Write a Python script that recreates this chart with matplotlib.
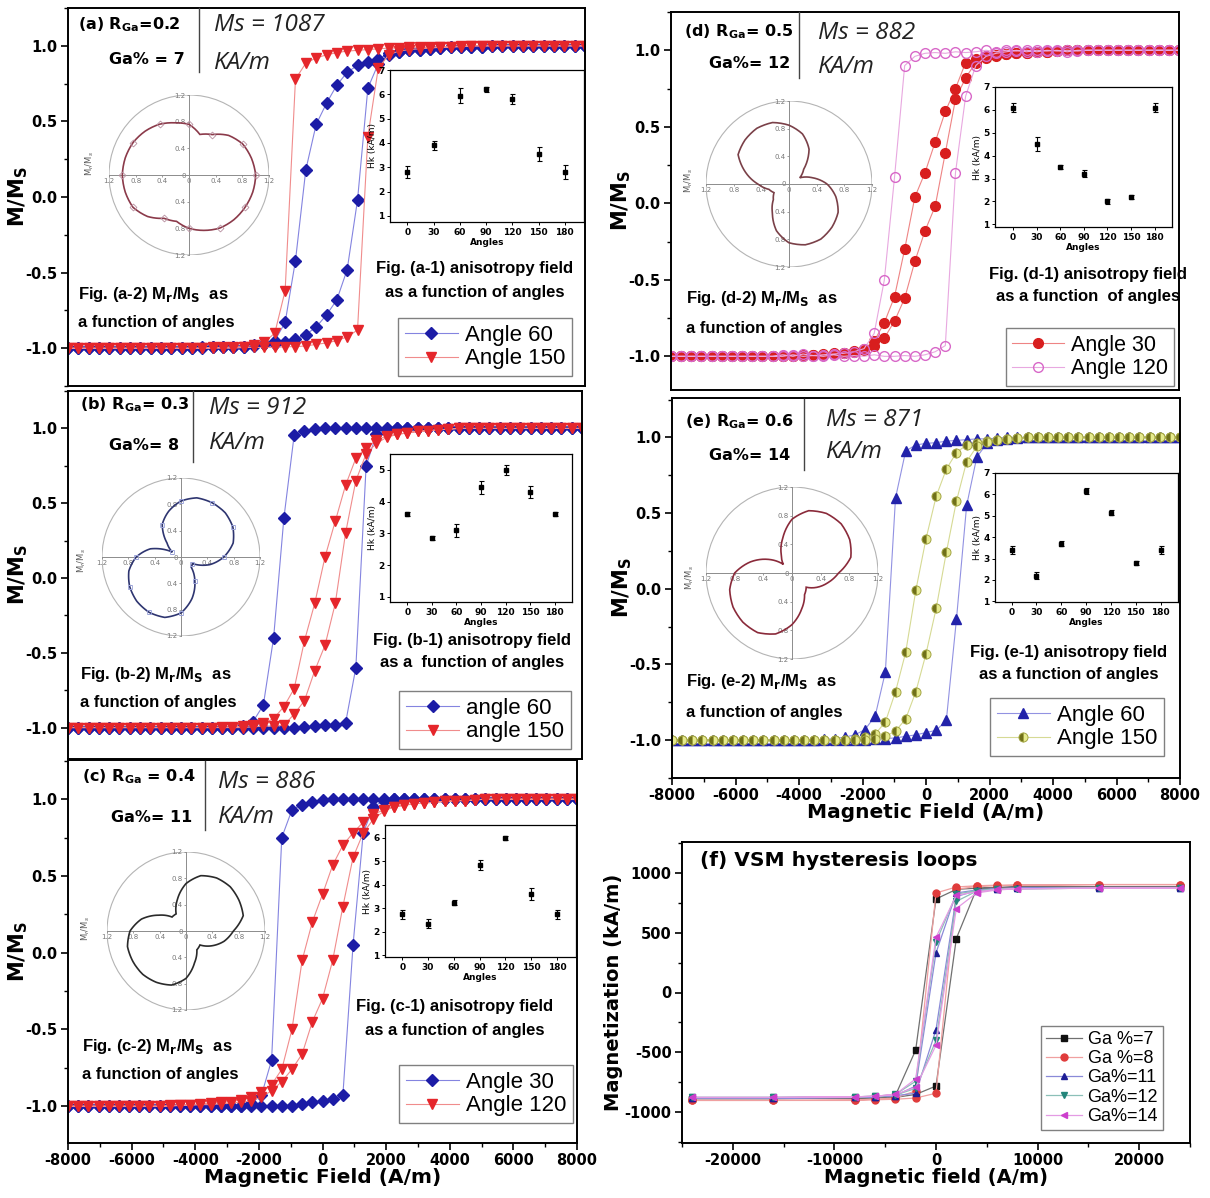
import numpy as np
import matplotlib
matplotlib.use('Agg')
import matplotlib.pyplot as plt
from matplotlib.lines import Line2D
from matplotlib.patches import Circle, PathPatch
from matplotlib.path import Path
from matplotlib.ticker import MultipleLocator

W, H = 1210, 1198
plt.rcParams['axes.unicode_minus'] = False
plt.rcParams['font.family'] = ['DejaVu Sans']

# field grid of the angular loops (A/m), -8000 .. 8000
FIELD = [-8000, -7680, -7360, -7040, -6720, -6400, -6080, -5760, -5440, -5120,
         -4800, -4480, -4160, -3840, -3520, -3200, -2880, -2560, -2240, -1920,
         -1600, -1280, -960, -640, -320, 0, 320, 640, 960, 1280,
         1600, 1920, 2240, 2560, 2880, 3200, 3520, 3840, 4160, 4480,
         4800, 5120, 5440, 5760, 6080, 6400, 6720, 7040, 7360, 7680, 8000]

# M/Ms read between -4800 and 4800 (outside that the loops sit at -1 / +1)
A60_DOWN = [-1.0, -1.0, -1.0, -0.995, -0.995, -0.99, -0.99, -0.99, -0.985, -0.975, -0.95, -0.83, -0.42, 0.18, 0.48, 0.62,
            0.74, 0.825, 0.87, 0.895, 0.91, 0.95, 0.96, 0.97, 0.975, 0.98, 0.985, 0.99, 0.99, 0.995, 0.995]
A60_UP = [-1.0, -1.0, -1.0, -1.0, -0.995, -0.995, -0.99, -0.99, -0.98, -0.975, -0.97, -0.96, -0.94, -0.91, -0.86, -0.78,
          -0.68, -0.48, -0.02, 0.72, 0.88, 0.94, 0.96, 0.97, 0.975, 0.98, 0.985, 0.99, 0.99, 0.995, 0.995]
A150_DOWN = [-1.0, -1.0, -1.0, -1.0, -0.995, -0.995, -0.99, -0.99, -0.98, -0.96, -0.9, -0.62, 0.78, 0.885, 0.92, 0.94,
             0.955, 0.965, 0.97, 0.975, 0.98, 0.985, 0.985, 0.99, 0.99, 0.99, 0.995, 0.995, 1.0, 1.0, 1.0]
A150_UP = [-1.0, -1.0, -1.0, -1.0, -1.0, -1.0, -1.0, -0.995, -0.995, -0.995, -0.995, -0.99, -0.99, -0.985, -0.975, -0.965,
           -0.95, -0.925, -0.88, 0.40, 0.85, 0.94, 0.965, 0.975, 0.98, 0.985, 0.99, 0.99, 0.995, 1.0, 1.0]

B60_DOWN = [-1.0] * 7 + [-0.99, -0.96, -0.85, -0.4, 0.4, 0.955, 0.985, 0.995] + [1.0] * 16
B60_UP = [-1.0] * 13 + [-0.995, -0.99, -0.985, -0.98, -0.97, -0.6, 0.75, 0.96, 0.99] + [1.0] * 9
B150_DOWN = [-1.0, -1.0, -1.0, -1.0, -1.0, -0.995, -0.995, -0.99, -0.985, -0.97, -0.94, -0.86, -0.74, -0.42, -0.17, 0.14,
             0.38, 0.62, 0.80, 0.87, 0.92, 0.95, 0.96, 0.97, 0.98, 0.985, 0.99, 0.995, 1.0, 1.0, 1.0]
B150_UP = [-1.0, -1.0, -1.0, -1.0, -1.0, -1.0, -1.0, -1.0, -0.995, -0.99, -0.99, -0.985, -0.91, -0.82, -0.62, -0.45,
           -0.17, 0.3, 0.65, 0.83, 0.9, 0.94, 0.96, 0.97, 0.98, 0.985, 0.99, 0.995, 1.0, 1.0, 1.0]

C30_DOWN = [-1.0] * 8 + [-0.98, -0.93, -0.7, 0.75, 0.93, 0.965, 0.98, 0.995] + [1.0] * 15
C30_UP = [-1.0] * 13 + [-0.985, -0.975, -0.965, -0.955, -0.93, 0.05, 0.78, 0.95, 0.99] + [1.0] * 9
C120_DOWN = [-0.995, -0.99, -0.99, -0.985, -0.98, -0.975, -0.97, -0.96, -0.94, -0.91, -0.86, -0.76, -0.5, -0.05, 0.2, 0.38,
             0.57, 0.7, 0.78, 0.85, 0.9, 0.93, 0.95, 0.96, 0.97, 0.975, 0.98, 0.985, 0.99, 0.99, 0.995]
C120_UP = [-1.0, -0.995, -0.995, -0.99, -0.99, -0.985, -0.98, -0.975, -0.965, -0.94, -0.9, -0.84, -0.76, -0.66, -0.45, -0.3,
           -0.05, 0.3, 0.62, 0.78, 0.87, 0.92, 0.95, 0.96, 0.97, 0.975, 0.98, 0.985, 0.99, 0.99, 0.995]

D30_DOWN = [-1.0, -0.995, -0.995, -0.99, -0.99, -0.985, -0.98, -0.975, -0.965, -0.95, -0.9, -0.78, -0.61, -0.3, 0.04, 0.2,
            0.4, 0.6, 0.75, 0.92, 0.94, 0.96, 0.97, 0.975, 0.98, 0.985, 0.99, 0.99, 0.995, 1.0, 1.0]
D30_UP = [-1.0, -1.0, -0.995, -0.995, -0.99, -0.99, -0.985, -0.98, -0.97, -0.96, -0.93, -0.88, -0.77, -0.62, -0.38, -0.18,
          -0.02, 0.33, 0.68, 0.82, 0.92, 0.95, 0.965, 0.975, 0.98, 0.985, 0.99, 0.99, 0.995, 1.0, 1.0]
D120_DOWN = [-1.0, -0.99, -1.0, -0.985, -0.995, -0.99, -0.985, -0.98, -0.97, -0.95, -0.85, -0.5, 0.17, 0.9, 0.96, 0.98,
             0.985, 0.98, 0.99, 0.985, 0.99, 1.0, 0.99, 1.0, 0.995, 1.0, 0.99, 1.0, 0.995, 1.0, 0.995]
D120_UP = [-1.0, -1.0, -0.99, -1.0, -0.995, -1.0, -0.99, -1.0, -0.995, -1.0, -0.99, -1.0, -1.0, -0.995, -1.0, -0.99,
           -0.97, -0.93, 0.2, 0.7, 0.9, 0.96, 0.98, 0.99, 1.0, 0.99, 1.0, 0.995, 1.0, 0.99, 1.0]

E60_DOWN = [-1.0, -1.0, -1.0, -1.0, -1.0, -0.995, -0.99, -0.98, -0.965, -0.93, -0.84, -0.55, 0.6, 0.91, 0.95, 0.96,
            0.965, 0.975, 0.98, 0.985, 0.99, 0.99, 0.995] + [1.0] * 8
E60_UP = [-1.0] * 10 + [-0.995, -0.99, -0.985, -0.975, -0.965, -0.95, -0.935, -0.87, -0.2, 0.55, 0.87, 0.96, 0.98,
                        0.99, 0.995] + [1.0] * 6
E150_DOWN = [-1.0] * 8 + [-0.99, -0.98, -0.96, -0.88, -0.68, -0.42, -0.01, 0.33, 0.61, 0.79, 0.9, 0.95, 0.96, 0.975,
                          0.985, 0.99, 0.995] + [1.0] * 6
E150_UP = [-1.0] * 10 + [-0.99, -0.975, -0.94, -0.86, -0.68, -0.43, -0.13, 0.24, 0.58, 0.84, 0.94, 0.97, 0.98, 0.99,
                         0.995] + [1.0] * 6

# anisotropy field insets
ANGLES = [0, 30, 60, 90, 120, 150, 180]
HK_A = [2.8, 3.9, 5.95, 6.2, 5.8, 3.55, 2.8]
ERR_A = [0.25, 0.2, 0.3, 0.12, 0.2, 0.3, 0.3]
HK_B = [3.6, 2.85, 3.1, 4.45, 5.0, 4.3, 3.6]
ERR_B = [0.06, 0.06, 0.2, 0.2, 0.15, 0.2, 0.06]
HK_C = [2.75, 2.35, 3.25, 4.85, 6.0, 3.6, 2.75]
ERR_C = [0.2, 0.2, 0.12, 0.2, 0.1, 0.25, 0.2]
HK_D = [6.1, 4.5, 3.5, 3.2, 2.0, 2.2, 6.1]
ERR_D = [0.2, 0.3, 0.1, 0.15, 0.1, 0.1, 0.2]
HK_E = [3.4, 2.2, 3.7, 6.15, 5.15, 2.8, 3.4]
ERR_E = [0.2, 0.15, 0.1, 0.15, 0.1, 0.1, 0.2]

# Mr/Ms polar insets
POLAR_ANG = [0, 15, 30, 45, 60, 75, 90, 105, 120, 135, 150, 165,
             180, 195, 210, 225, 240, 255, 270, 285, 300, 315, 330, 345]
R_A = [1.0, 0.97, 0.93, 0.84, 0.70, 0.63, 0.76, 0.81, 0.88, 0.93, 0.97, 0.99,
       1.0, 0.99, 0.97, 0.88, 0.75, 0.72, 0.8, 0.86, 0.92, 0.95, 0.97, 0.99]
R_B = [0.65, 0.82, 0.91, 0.95, 0.95, 0.93, 0.85, 0.72, 0.57, 0.3, 0.15, 0.48,
       0.68, 0.82, 0.9, 0.95, 0.97, 0.95, 0.85, 0.65, 0.42, 0.22, 0.2, 0.45]
R_C = [0.72, 0.9, 0.93, 0.95, 0.93, 0.87, 0.72, 0.5, 0.3, 0.3, 0.48, 0.7,
       0.85, 0.92, 0.93, 0.93, 0.9, 0.85, 0.72, 0.5, 0.33, 0.3, 0.45, 0.6]
R_D = [0.55, 0.35, 0.18, 0.3, 0.58, 0.75, 0.85, 0.92, 0.93, 0.9, 0.85, 0.65,
       0.45, 0.3, 0.25, 0.32, 0.48, 0.7, 0.85, 0.91, 0.92, 0.88, 0.82, 0.7]
R_E = [0.65, 0.85, 0.93, 0.97, 0.96, 0.9, 0.75, 0.5, 0.3, 0.17, 0.38, 0.6,
       0.8, 0.9, 0.95, 0.97, 0.96, 0.88, 0.72, 0.52, 0.35, 0.28, 0.4, 0.52]

# VSM loops (f)
F_FIELD = [24000, 16000, 8000, 6000, 4000, 2000, 0, -2000, -4000, -6000, -8000, -16000, -24000]
GA7_DOWN = [880, 880, 880, 875, 870, 860, 780, -480, -860, -875, -880, -885, -885]
GA7_UP = [880, 880, 880, 875, 865, 450, -780, -850, -875, -880, -880, -885, -885]
GA8_DOWN = [900, 900, 895, 895, 890, 880, 830, -820, -880, -890, -895, -900, -900]
GA8_UP = [900, 900, 895, 890, 885, 860, -840, -880, -890, -895, -900, -900, -900]
GA11_DOWN = [875, 875, 870, 865, 855, 830, 330, -780, -860, -870, -875, -880, -880]
GA11_UP = [875, 875, 870, 865, 850, 800, -310, -840, -860, -870, -875, -880, -880]
GA12_DOWN = [870, 870, 865, 860, 850, 820, 420, -740, -850, -865, -870, -875, -875]
GA12_UP = [870, 870, 865, 860, 845, 760, -400, -800, -855, -865, -870, -875, -875]
GA14_DOWN = [870, 870, 865, 860, 840, 810, 460, -720, -850, -865, -870, -875, -875]
GA14_UP = [870, 870, 865, 855, 830, 700, -440, -790, -850, -865, -870, -875, -875]

BLUE, BLUE_L = '#1c1ca6', '#8484e0'
RED, RED_L = '#e5262b', '#f08c8c'
CAP = dict(family=['Liberation Sans', 'DejaVu Sans'], fontsize=12, fontweight='bold')
MS = dict(family=['Open Sans', 'DejaVu Sans'], style='italic', fontsize=17.5, color='#222222')
HEAD = dict(fontsize=11.5, fontweight='bold')

fig = plt.figure(figsize=(W / 100, H / 100), dpi=100)


def rect(x0, y0, x1, y1):
    return [x0 / W, 1 - y1 / H, (x1 - x0) / W, (y1 - y0) / H]


def put(x, y, s, **kw):
    kw.setdefault('va', 'center')
    fig.text(x / W, 1 - y / H, s, **kw)


def vline(x, y0, y1):
    fig.add_artist(Line2D([x / W, x / W], [1 - y0 / H, 1 - y1 / H], color='#444444', lw=1.0))


def branch(window):
    return [-1.0] * 10 + window + [1.0] * 10


def loop_panel(box, ylim, bottom_labels):
    ax = fig.add_axes(rect(*box))
    ax.set_xlim(-8000, 8000)
    ax.set_ylim(*ylim)
    ax.set_yticks([-1.0, -0.5, 0.0, 0.5, 1.0])
    ax.set_yticklabels(['-1.0', '-0.5', '0.0', '0.5', '1.0'])
    ax.yaxis.set_minor_locator(MultipleLocator(0.25))
    ax.set_xticks(range(-8000, 8001, 2000))
    ax.xaxis.set_minor_locator(MultipleLocator(1000))
    ax.tick_params(which='major', length=5, width=1.2, labelsize=10.5, pad=2.5)
    ax.tick_params(which='minor', length=3, width=1.0)
    for sp in ax.spines.values():
        sp.set_linewidth(1.4)
    ax.set_ylabel(r'M/M$_\mathbf{S}$', fontsize=15, fontweight='bold', labelpad=-3)
    if bottom_labels:
        ax.set_xlabel('Magnetic Field (A/m)', fontsize=14.5, fontweight='bold', labelpad=0)
    else:
        ax.tick_params(axis='x', which='both', bottom=False, labelbottom=False)
    for t in ax.get_xticklabels() + ax.get_yticklabels():
        t.set_fontweight('bold')
    return ax


def loop(ax, down, up, label, marker, color, line, ms, **kw):
    style = dict(marker=marker, color=line, mfc=color, mec=color, ms=ms, lw=0.8, label=label)
    style.update(kw)
    ax.plot(FIELD[::-1] + FIELD, branch(down)[::-1] + branch(up), **style)


def legend(ax, cx, cy, size=16, hl=2.4):
    ax.legend(loc='center', bbox_to_anchor=(cx / W, 1 - cy / H), bbox_transform=fig.transFigure,
              prop={'family': ['Liberation Sans', 'DejaVu Sans'], 'size': size},
              frameon=True, fancybox=False, edgecolor='#808080', framealpha=1,
              handlelength=hl, handletextpad=0.3, borderpad=0.3, labelspacing=0.12,
              borderaxespad=0)


def hk_inset(box, xlim, ylim, yticks, vals, errs):
    ax = fig.add_axes(rect(*box))
    ax.errorbar(ANGLES, vals, yerr=errs, fmt='s', ms=3.3, color='black', elinewidth=0.8,
                capsize=1.8, capthick=0.8)
    ax.set_xlim(*xlim)
    ax.set_ylim(*ylim)
    ax.set_xticks(ANGLES)
    ax.set_yticks(yticks)
    ax.tick_params(labelsize=6.5, length=2.5, width=0.7, pad=1.5)
    for t in ax.get_xticklabels() + ax.get_yticklabels():
        t.set_fontweight('bold')
    ax.set_xlabel('Angles', fontsize=6.5, fontweight='bold', labelpad=1)
    ax.set_ylabel('Hk (kA/m)', fontsize=6.5, labelpad=1)
    for sp in ax.spines.values():
        sp.set_linewidth(0.9)
    return ax


def polar_inset(cx, cy, r_px, radii, color, mk=None, mkcolor=None):
    box = rect(cx - r_px, cy - r_px, cx + r_px, cy + r_px)
    # cartesian frame: crossing axes, tick labels and the 1.2 circle
    ax = fig.add_axes(box)
    ax.patch.set_alpha(0)
    ax.set_xlim(-1.2, 1.2)
    ax.set_ylim(-1.2, 1.2)
    ax.set_aspect('equal')
    for side in ('top', 'right'):
        ax.spines[side].set_visible(False)
    for side in ('left', 'bottom'):
        ax.spines[side].set_position('zero')
        ax.spines[side].set_color('#8c8c8c')
        ax.spines[side].set_linewidth(0.7)
    ticks = [-1.2, -0.8, -0.4, 0, 0.4, 0.8, 1.2]
    labels = ['1.2', '0.8', '0.4', '0', '0.4', '0.8', '1.2']
    ax.set_xticks(ticks)
    ax.set_xticklabels(labels)
    ax.set_yticks(ticks)
    ax.set_yticklabels(labels)
    ax.tick_params(labelsize=5, colors='#777777', length=1.5, width=0.5, pad=1)
    ax.add_patch(Circle((0, 0), 1.2, fill=False, ec='#b4b4b4', lw=0.8))
    # the curve on a polar axes sharing the same square, drawn as arcs between readings
    axp = fig.add_axes(box, projection='polar')
    axp.set_axis_off()
    axp.set_rlim(0, 1.2)
    th = np.deg2rad(POLAR_ANG + [360])
    rr = radii + radii[:1]
    curve = Path(np.column_stack([th, rr]), _interpolation_steps=12)
    axp.add_patch(PathPatch(curve, fill=False, ec=color, lw=1.2))
    if mk:
        axp.plot(np.deg2rad(POLAR_ANG[::2]), radii[::2], ls='none', marker=mk,
                 mfc='none', mec=mkcolor, ms=3.5, mew=0.6)
    return ax


# ---------------- (a) ----------------
ax = loop_panel((68, 8, 585, 386), (-1.25, 1.25), False)
loop(ax, A60_DOWN, A60_UP, 'Angle 60', 'D', BLUE, BLUE_L, 6)
loop(ax, A150_DOWN, A150_UP, 'Angle 150', 'v', RED, RED_L, 7)
legend(ax, 485, 347)
hk_inset((390, 70, 584, 222), (-20, 202), (0.75, 7.0), [1, 2, 3, 4, 5, 6, 7], HK_A, ERR_A)
polar_inset(189, 175, 80, R_A, '#8b3a4a', 'D', '#b890a0')
put(90, 163, r'M$_r$/M$_s$', rotation=90, fontsize=6, color='#555555', ha='center')
put(78, 25, r'(a) R$_\mathbf{Ga}$=0.2', ha='left', **HEAD)
put(185, 60, 'Ga% = 7', ha='right', **HEAD)
vline(199, 8, 72)
put(214, 25, 'Ms = 1087', ha='left', **MS)
put(214, 63, 'KA/m', ha='left', **MS)
put(475, 269, 'Fig. (a-1) anisotropy field', ha='center', **CAP)
put(475, 292, 'as a function of angles', ha='center', **CAP)
put(78, 295, r'Fig. (a-2) M$_\mathbf{r}$/M$_\mathbf{S}$  as', ha='left', **CAP)
put(78, 323, 'a function of angles', ha='left', **CAP)

# ---------------- (b) ----------------
ax = loop_panel((68, 391, 582, 759), (-1.21, 1.25), False)
loop(ax, B60_DOWN, B60_UP, 'angle 60', 'D', BLUE, BLUE_L, 6)
loop(ax, B150_DOWN, B150_UP, 'angle 150', 'v', RED, RED_L, 7)
legend(ax, 485, 720)
hk_inset((390, 454, 572, 602), (-21, 201), (0.84, 5.5), [1, 2, 3, 4, 5], HK_B, ERR_B)
polar_inset(181, 557, 79, R_B, '#2e3570', 's', '#9aa2d8')
put(82, 560, r'M$_r$/M$_s$', rotation=90, fontsize=6, color='#555555', ha='center')
put(80, 405, r'(b) R$_\mathbf{Ga}$= 0.3', ha='left', **HEAD)
put(179, 445, 'Ga%= 8', ha='right', **HEAD)
vline(193, 391, 462)
put(209, 408, 'Ms = 912', ha='left', **MS)
put(209, 443, 'KA/m', ha='left', **MS)
put(472, 640, 'Fig. (b-1) anisotropy field', ha='center', **CAP)
put(472, 663, 'as a  function of angles', ha='center', **CAP)
put(80, 675, r'Fig. (b-2) M$_\mathbf{r}$/M$_\mathbf{S}$  as', ha='left', **CAP)
put(80, 703, 'a function of angles', ha='left', **CAP)

# ---------------- (c) ----------------
ax = loop_panel((68, 760, 577, 1143), (-1.24, 1.255), True)
loop(ax, C30_DOWN, C30_UP, 'Angle 30', 'D', BLUE, BLUE_L, 6)
loop(ax, C120_DOWN, C120_UP, 'Angle 120', 'v', RED, RED_L, 7)
legend(ax, 486, 1094)
hk_inset((385, 825, 576, 957), (-20, 202), (0.93, 6.55), [1, 2, 3, 4, 5, 6], HK_C, ERR_C)
polar_inset(186, 931, 79, R_C, '#2a2a2a')
put(86, 928, r'M$_r$/M$_s$', rotation=90, fontsize=6, color='#555555', ha='center')
put(82, 777, r'(c) R$_\mathbf{Ga}$ = 0.4', ha='left', **HEAD)
put(192, 818, 'Ga%= 11', ha='right', **HEAD)
vline(205, 761, 830)
put(218, 782, 'Ms = 886', ha='left', **MS)
put(218, 817, 'KA/m', ha='left', **MS)
put(455, 1007, 'Fig. (c-1) anisotropy field', ha='center', **CAP)
put(455, 1030, 'as a function of angles', ha='center', **CAP)
put(82, 1047, r'Fig. (c-2) M$_\mathbf{r}$/M$_\mathbf{S}$  as', ha='left', **CAP)
put(82, 1075, 'a function of angles', ha='left', **CAP)

# ---------------- (d) ----------------
ax = loop_panel((671, 12, 1179, 390), (-1.22, 1.25), False)
loop(ax, D30_DOWN, D30_UP, 'Angle 30', 'o', '#d81e1e', '#ee8484', 7)
loop(ax, D120_DOWN, D120_UP, 'Angle 120', 'o', '#d868c8', '#e8a8e0', 7, mfc='none', mew=1.0)
legend(ax, 1090, 357, size=15.5)
hk_inset((995, 87, 1172, 227), (-23, 202), (0.88, 7.0), [1, 2, 3, 4, 5, 6, 7], HK_D, ERR_D)
polar_inset(789, 184, 83, R_D, '#7a4048')
put(689, 180, r'M$_r$/M$_s$', rotation=90, fontsize=6, color='#555555', ha='center')
put(684, 32, r'(d) R$_\mathbf{Ga}$= 0.5', ha='left', **HEAD)
put(790, 63, 'Ga%= 12', ha='right', **HEAD)
vline(799, 12, 78)
put(818, 33, 'Ms = 882', ha='left', **MS)
put(818, 67, 'KA/m', ha='left', **MS)
put(1088, 275, 'Fig. (d-1) anisotropy field', ha='center', **CAP)
put(1088, 296, 'as a function  of angles', ha='center', **CAP)
put(686, 298, r'Fig. (d-2) M$_\mathbf{r}$/M$_\mathbf{S}$  as', ha='left', **CAP)
put(686, 328, 'a function of angles', ha='left', **CAP)

# ---------------- (e) ----------------
ax = loop_panel((672, 398, 1180, 778), (-1.25, 1.26), True)
loop(ax, E60_DOWN, E60_UP, 'Angle 60', '^', '#2323aa', '#9292e2', 6.5)
loop(ax, E150_DOWN, E150_UP, 'Angle 150', 'o', '#70701a', '#d6da94', 6.5,
     fillstyle='left', mfc='#70701a', mfcalt='#e6ea8e', mec='#a2a442', mew=0.7)
legend(ax, 1077, 727)
hk_inset((995, 473, 1178, 602), (-20, 201), (0.97, 7.0), [1, 2, 3, 4, 5, 6, 7], HK_E, ERR_E)
polar_inset(792, 573, 86, R_E, '#8a2a3a')
put(690, 577, r'M$_r$/M$_s$', rotation=90, fontsize=6, color='#555555', ha='center')
put(685, 422, r'(e) R$_\mathbf{Ga}$= 0.6', ha='left', **HEAD)
put(790, 455, 'Ga%= 14', ha='right', **HEAD)
vline(804, 399, 470)
put(826, 420, 'Ms = 871', ha='left', **MS)
put(826, 452, 'KA/m', ha='left', **MS)
put(1069, 652, 'Fig. (e-1) anisotropy field', ha='center', **CAP)
put(1069, 675, 'as a function of angles', ha='center', **CAP)
put(686, 682, r'Fig. (e-2) M$_\mathbf{r}$/M$_\mathbf{S}$  as', ha='left', **CAP)
put(686, 712, 'a function of angles', ha='left', **CAP)

# ---------------- (f) ----------------
ax = fig.add_axes(rect(682, 842, 1190, 1143))
vsm = [(GA7_DOWN, GA7_UP, 'Ga %=7', 's', '#111111', '#707070'),
       (GA8_DOWN, GA8_UP, 'Ga %=8', 'o', '#e03c3c', '#f0a0a0'),
       (GA11_DOWN, GA11_UP, 'Ga%=11', '^', '#1e1e96', '#8a8ad8'),
       (GA12_DOWN, GA12_UP, 'Ga%=12', 'v', '#23857a', '#8cc0b8'),
       (GA14_DOWN, GA14_UP, 'Ga%=14', '<', '#cc3fcc', '#e49be4')]
for down, up, lab, mk, col, lc in vsm:
    ax.plot(F_FIELD + F_FIELD[::-1], down + up[::-1], marker=mk, color=lc, mfc=col, mec=col,
            ms=5, lw=0.9, label=lab)
ax.set_xlim(-25000, 25000)
ax.set_ylim(-1255, 1255)
ax.set_xticks([-20000, -10000, 0, 10000, 20000])
ax.xaxis.set_minor_locator(MultipleLocator(5000))
ax.set_yticks([-1000, -500, 0, 500, 1000])
ax.yaxis.set_minor_locator(MultipleLocator(250))
ax.tick_params(which='major', length=5, width=1.2, labelsize=10.5, pad=2.5)
ax.tick_params(which='minor', length=3, width=1.0)
for t in ax.get_xticklabels() + ax.get_yticklabels():
    t.set_fontweight('bold')
for sp in ax.spines.values():
    sp.set_linewidth(1.4)
ax.set_xlabel('Magnetic field (A/m)', fontsize=14, fontweight='bold', labelpad=0)
ax.set_ylabel('Magnetization (kA/m)', fontsize=14, fontweight='bold', labelpad=1)
legend(ax, 1102, 1078, size=13, hl=2.0)
put(700, 860, '(f) VSM hysteresis loops', ha='left', fontsize=14.5, fontweight='bold')

fig.savefig('out.png', dpi=100)
